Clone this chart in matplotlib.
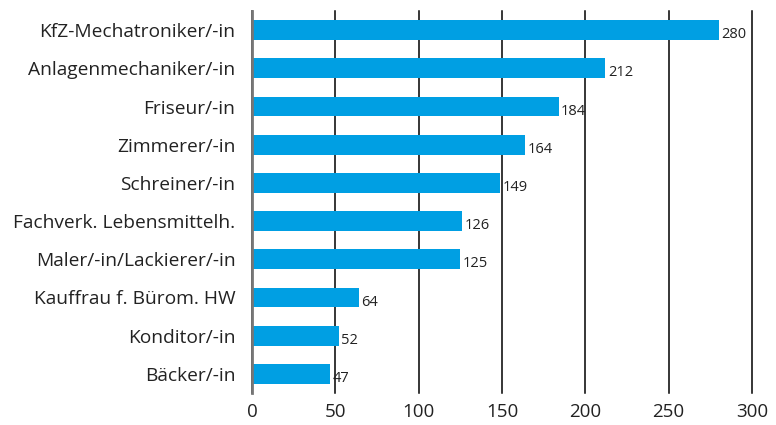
import matplotlib.pyplot as plt

categories = ["KfZ-Mechatroniker/-in", "Anlagenmechaniker/-in", "Friseur/-in",
              "Zimmerer/-in", "Schreiner/-in", "Fachverk. Lebensmittelh.",
              "Maler/-in/Lackierer/-in", "Kauffrau f. Bürom. HW",
              "Konditor/-in", "Bäcker/-in"]
values = [280, 212, 184, 164, 149, 126, 125, 64, 52, 47]
xticks = [0, 50, 100, 150, 200, 250, 300]

plt.rcParams['font.family'] = ['Open Sans', 'DejaVu Sans']

fig = plt.figure(figsize=(7.76, 4.25), dpi=100)
ax = fig.add_axes([0.3247, 0.0753, 0.6443, 0.8988])

ypos = list(range(len(categories)))[::-1]
ax.barh(ypos, values, height=0.52, color="#009fe3", zorder=3)
for y, v in zip(ypos, values):
    ax.text(v + 1.5, y - 0.12, str(v), va="center", ha="left", fontsize=10.5,
            color="#222222", zorder=4)

ax.set_xlim(0, 300)
ax.set_ylim(-0.5, 9.5)
ax.set_xticks(xticks)
ax.set_yticks(ypos)
ax.set_yticklabels(categories, fontsize=13.8, color="#222222")
ax.tick_params(axis="x", length=0, pad=7, labelsize=13.5, labelcolor="#222222")
ax.tick_params(axis="y", length=0, pad=12)

ax.grid(axis="x", color="black", linewidth=1.1, zorder=1)
for gl in ax.get_xgridlines():
    gl.set_clip_on(False)
for s in ["top", "right", "bottom"]:
    ax.spines[s].set_visible(False)
ax.spines["left"].set_color("#777777")
ax.spines["left"].set_linewidth(2)
ax.spines["left"].set_zorder(5)

fig.savefig("out.png", dpi=100)
